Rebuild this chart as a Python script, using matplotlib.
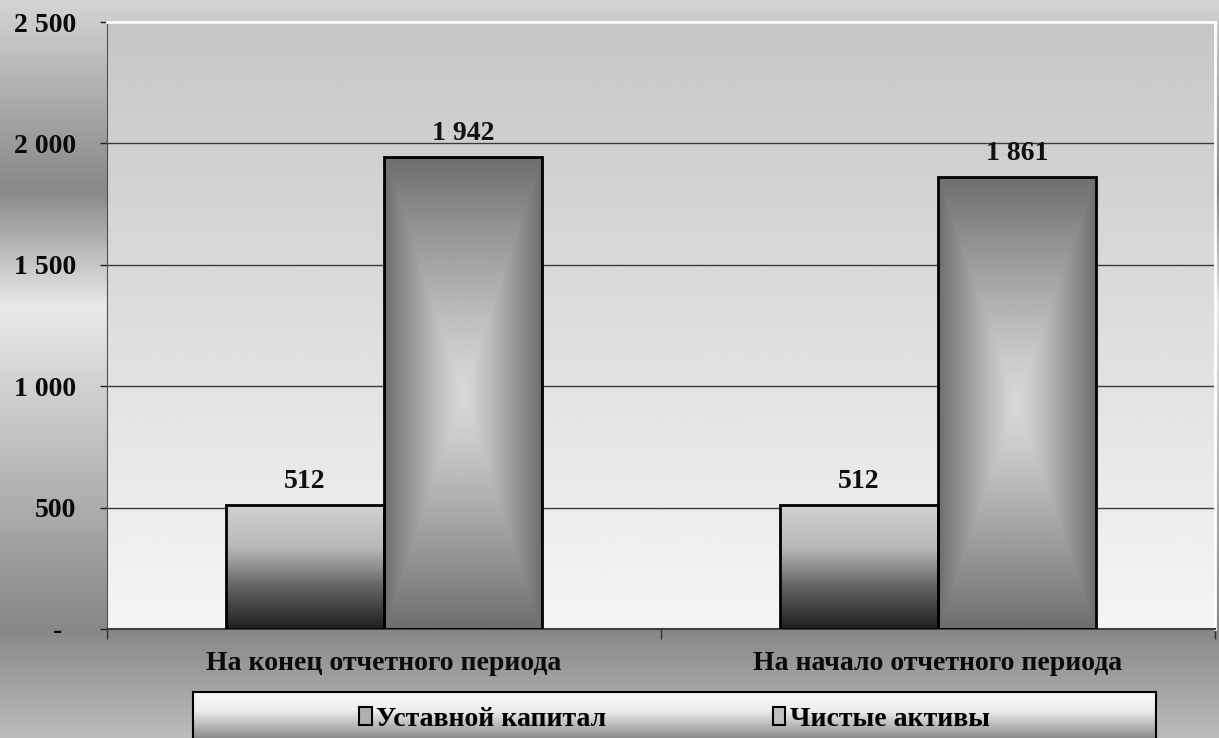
import numpy as np
import matplotlib.pyplot as plt
from matplotlib.patches import Patch
from matplotlib.ticker import FuncFormatter

categories = ['На конец отчетного периода', 'На начало отчетного периода']
series_names = ['Уставной капитал', 'Чистые активы']
charter_capital = [512, 512]
net_assets = [1942, 1861]
y_ticks = [0, 500, 1000, 1500, 2000, 2500]


def fmt(v):
    if v == 0:
        return '-  '
    return f'{int(v):,}'.replace(',', ' ')


plt.rcParams['font.family'] = ['Liberation Serif', 'DejaVu Serif']
plt.rcParams['font.weight'] = 'bold'
plt.rcParams['font.size'] = 20

W, H = 1219, 738
fig = plt.figure(figsize=(W / 100, H / 100), dpi=100)

# figure background: horizontal bands of gray
bg = fig.add_axes([0, 0, 1, 1], zorder=-10)
rows = np.arange(H)
bg_vals = np.interp(rows, [0, 190, 305, 630, 738], [0.83, 0.53, 0.91, 0.53, 0.74])
bg.imshow(np.repeat(bg_vals[:, None], 2, axis=1), cmap='gray', vmin=0, vmax=1,
          aspect='auto', extent=[0, 1, 0, 1])
bg.axis('off')

# main plot
ax = fig.add_axes([107 / W, 1 - 629 / H, (1215 - 107) / W, (629 - 22) / H])
ax.set_facecolor('none')
pa = np.linspace(0.776, 0.96, 256)[:, None]
ax.imshow(np.repeat(pa, 2, axis=1), cmap='gray', vmin=0, vmax=1, aspect='auto',
          extent=[-0.5, 1.5, 0, 2500], zorder=0.1)

x = np.arange(len(categories))
w = 0.285
b1 = ax.bar(x - w / 2, charter_capital, w, facecolor='none', edgecolor='black', lw=2, zorder=3)
b2 = ax.bar(x + w / 2, net_assets, w, facecolor='none', edgecolor='black', lw=2, zorder=3)

# gradient fills
g1 = np.interp(np.linspace(0, 1, 256), [0, 0.35, 0.65, 1], [0.82, 0.72, 0.40, 0.12])[:, None]
g1 = np.repeat(g1, 2, axis=1)
for r in b1:
    x0, y0, ww, hh = r.get_x(), r.get_y(), r.get_width(), r.get_height()
    ax.imshow(g1, cmap='gray', vmin=0, vmax=1, aspect='auto',
              extent=[x0, x0 + ww, y0, y0 + hh], zorder=2)

u = np.linspace(-1, 1, 200)[None, :]
v = np.linspace(-1, 1, 400)[:, None]
t = np.maximum(np.abs(u), np.abs(v))
g2 = 0.85 - 0.42 * t ** 1.2
for r in b2:
    x0, y0, ww, hh = r.get_x(), r.get_y(), r.get_width(), r.get_height()
    ax.imshow(g2, cmap='gray', vmin=0, vmax=1, aspect='auto',
              extent=[x0, x0 + ww, y0, y0 + hh], zorder=2)

ax.bar_label(b1, labels=[fmt(v) for v in charter_capital], padding=8,
             fontsize=20, fontweight='bold', color='#111111')
ax.bar_label(b2, labels=[fmt(v) for v in net_assets], padding=8,
             fontsize=20, fontweight='bold', color='#111111')

ax.set_xlim(-0.5, 1.5)
ax.set_ylim(0, 2500)
ax.set_axisbelow(True)
ax.yaxis.grid(True, color='#3a3a3a', lw=1)

ax.set_yticks(y_ticks)
ax.yaxis.set_major_formatter(FuncFormatter(lambda val, p: fmt(val)))
ax.tick_params(axis='y', length=5, width=1, color='#202020', pad=17, labelsize=20, labelcolor='#0a0a0a')

ax.set_xticks(x)
ax.set_xticklabels(categories)
ax.tick_params(axis='x', which='major', length=0, pad=16, labelsize=20, labelcolor='#0a0a0a')
ax.set_xticks([-0.5, 0.5, 1.5], minor=True)
ax.tick_params(axis='x', which='minor', length=7, width=1, color='#303030', direction='out')

for s in ['top', 'right']:
    ax.spines[s].set_color('white')
    ax.spines[s].set_linewidth(2)
ax.spines['left'].set_color('#505050')
ax.spines['bottom'].set_color('#404040')
ax.spines['bottom'].set_linewidth(1.5)

# legend box
lax = fig.add_axes([193 / W, 0, (1156 - 193) / W, (738 - 692) / H])
lg = np.interp(np.linspace(0, 1, 128), [0, 0.4, 1], [0.97, 0.93, 0.55])[:, None]
lax.imshow(np.repeat(lg, 2, axis=1), cmap='gray', vmin=0, vmax=1, aspect='auto',
           extent=[0, 1, 0, 1])
lax.set_xticks([])
lax.set_yticks([])
for s in ['top', 'left', 'right']:
    lax.spines[s].set_color('black')
    lax.spines[s].set_linewidth(1.5)
lax.spines['bottom'].set_visible(False)

handles = [Patch(facecolor='#b0b0b0', edgecolor='black', lw=1.5),
           Patch(facecolor='#c0c0c0', edgecolor='black', lw=1.5)]
lax.legend(handles, series_names, loc='center', bbox_to_anchor=(0.5, 0.4), ncol=2,
           frameon=False, handlelength=0.45, handleheight=0.6, handletextpad=0.15,
           columnspacing=6.0, fontsize=20, borderaxespad=0, borderpad=0)

fig.savefig('out.png', dpi=100)
